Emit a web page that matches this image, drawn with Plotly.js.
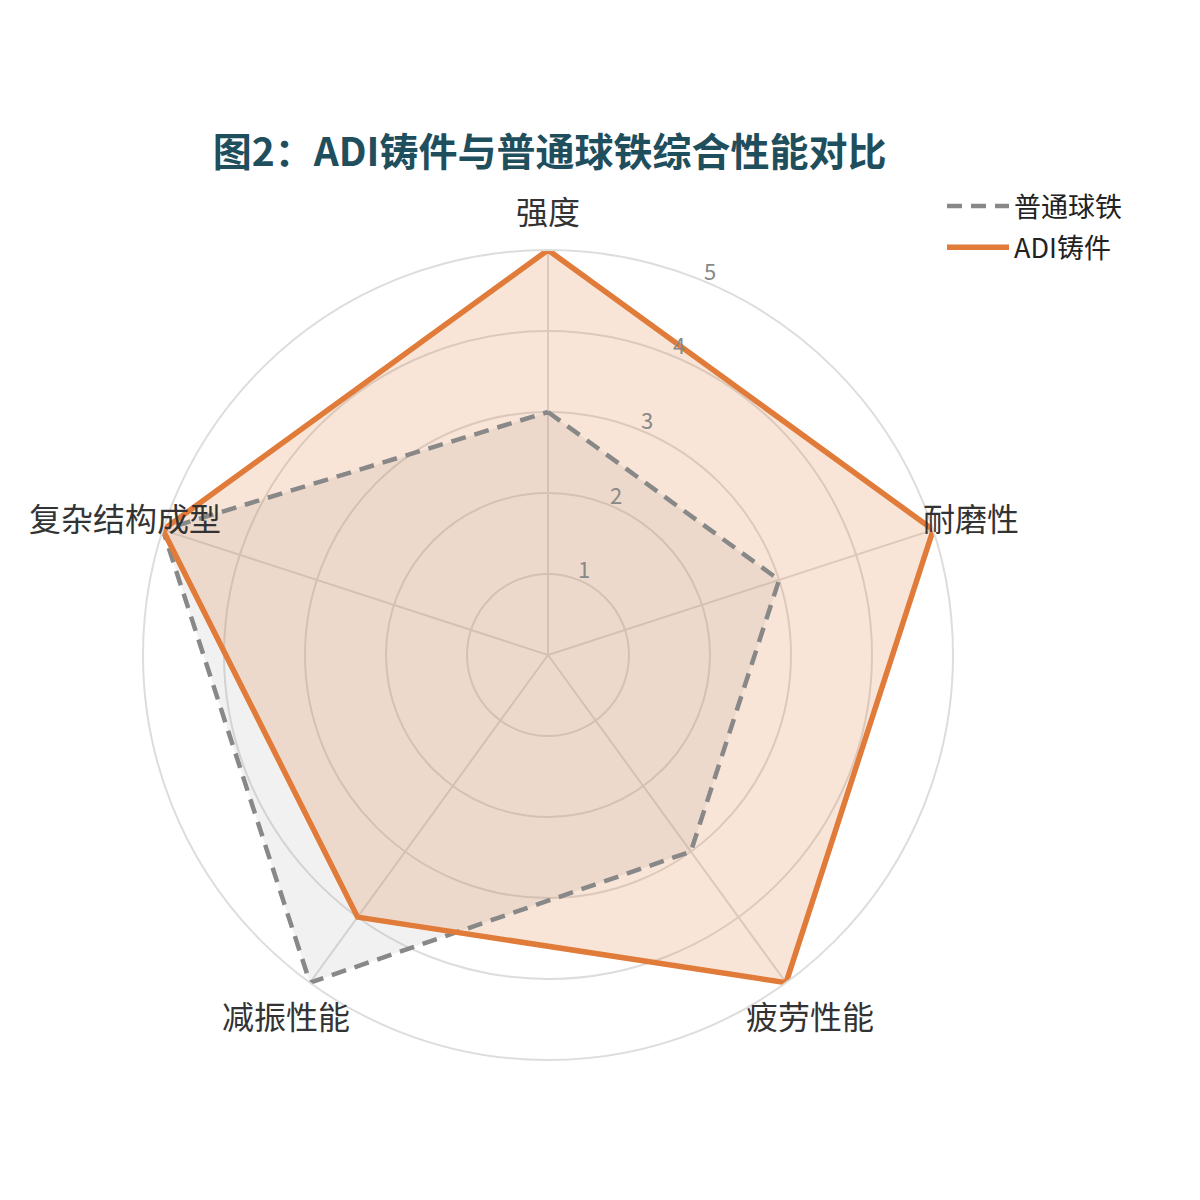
<!DOCTYPE html>
<html>
<head>
<meta charset="utf-8">
<script src="https://cdn.plot.ly/plotly-3.0.1.min.js"></script>
<style>
  body { margin: 0; background: #fff; }
  #chart { width: 1200px; height: 1200px; }
</style>
</head>
<body>
<div id="chart"></div>
<script>
// categories and scores (1-5)
const categories = ['强度', '耐磨性', '疲劳性能', '减振性能', '复杂结构成型'];
const ductileIron = [3, 3, 3, 5, 5];
const adiCasting = [5, 5, 5, 4, 5];
const radialTicks = [1, 2, 3, 4, 5];
const radialMax = 5;

// close the polygons
const closeLoop = arr => arr.concat([arr[0]]);

// fills first, outlines on top of both fills
const ductileFill = {
    type: 'scatterpolar',
    r: closeLoop(ductileIron),
    theta: closeLoop(categories),
    mode: 'lines',
    line: { width: 0 },
    fill: 'toself',
    fillcolor: 'rgba(136,136,136,0.12)',
    showlegend: false,
    hoverinfo: 'skip',
};

const adiFill = {
    type: 'scatterpolar',
    r: closeLoop(adiCasting),
    theta: closeLoop(categories),
    mode: 'lines',
    line: { width: 0 },
    fill: 'toself',
    fillcolor: 'rgba(224,123,57,0.2)',
    showlegend: false,
    hoverinfo: 'skip',
};

const ductileTrace = {
    type: 'scatterpolar',
    name: '普通球铁',
    legendgroup: 'a',
    r: closeLoop(ductileIron),
    theta: closeLoop(categories),
    mode: 'lines',
    line: { color: '#888888', width: 4.5, dash: '15px,9px' },
};

const adiTrace = {
    type: 'scatterpolar',
    name: 'ADI铸件',
    legendgroup: 'b',
    r: closeLoop(adiCasting),
    theta: closeLoop(categories),
    mode: 'lines',
    line: { color: '#e07b39', width: 5.5 },
};

// polar frame (pixels of the 1200x1200 page)
const cx = 548, cy = 655, R = 405;
const labelR = 445;
const tickAngle = 67.2 * Math.PI / 180;

// category labels centred on a ring just outside the chart
const labelAnnotations = categories.map((name, i) => {
    const a = (90 - i * 360 / categories.length) * Math.PI / 180;
    return {
        text: name,
        xref: 'paper', yref: 'paper',
        x: (cx + labelR * Math.cos(a)) / 1200,
        y: 1 - (cy - labelR * Math.sin(a)) / 1200,
        xanchor: 'center', yanchor: 'middle',
        showarrow: false,
        font: { size: 32, color: '#333333' },
    };
});

// radial tick labels along a tilted spoke
const tickAnnotations = radialTicks.map(v => {
    const d = v / radialMax * R + 13;
    return {
        text: String(v),
        xref: 'paper', yref: 'paper',
        x: (cx + d * Math.cos(tickAngle)) / 1200,
        y: 1 - (cy - d * Math.sin(tickAngle)) / 1200,
        xanchor: 'center', yanchor: 'middle',
        showarrow: false,
        font: { size: 22, color: '#888888' },
    };
});

const layout = {
    width: 1200,
    height: 1200,
    paper_bgcolor: '#ffffff',
    font: { family: '"Noto Sans CJK SC", "Noto Sans", sans-serif', color: '#333333' },
    title: {
        text: '<b>图2：ADI铸件与普通球铁综合性能对比</b>',
        font: { size: 39, color: '#1f4e5c' },
        xref: 'container',
        x: 0.458,
        xanchor: 'center',
        yref: 'container',
        y: 1 - 152 / 1200,
        yanchor: 'middle',
    },
    margin: { t: 0, b: 0, l: 0, r: 0 },
    showlegend: true,
    legend: {
        x: 942 / 1200,
        y: 1 - 182 / 1200,
        xanchor: 'left',
        yanchor: 'top',
        itemwidth: 62,
        tracegroupgap: 3,
        font: { size: 27, color: '#222222' },
        bgcolor: 'rgba(0,0,0,0)',
    },
    annotations: labelAnnotations.concat(tickAnnotations),
    polar: {
        domain: { x: [(cx - R) / 1200, (cx + R) / 1200], y: [1 - (cy + R) / 1200, 1 - (cy - R) / 1200] },
        bgcolor: '#ffffff',
        radialaxis: {
            range: [0, radialMax],
            tickvals: radialTicks,
            showticklabels: false,
            showline: false,
            ticks: '',
            gridcolor: '#dddddd',
            gridwidth: 2,
        },
        angularaxis: {
            direction: 'clockwise',
            rotation: 90,
            showticklabels: false,
            linecolor: '#dddddd',
            linewidth: 2,
            gridcolor: '#dddddd',
            gridwidth: 2,
            ticks: '',
        },
    },
};

Plotly.newPlot('chart', [ductileFill, adiFill, ductileTrace, adiTrace], layout, { displayModeBar: false });
</script>
</body>
</html>
